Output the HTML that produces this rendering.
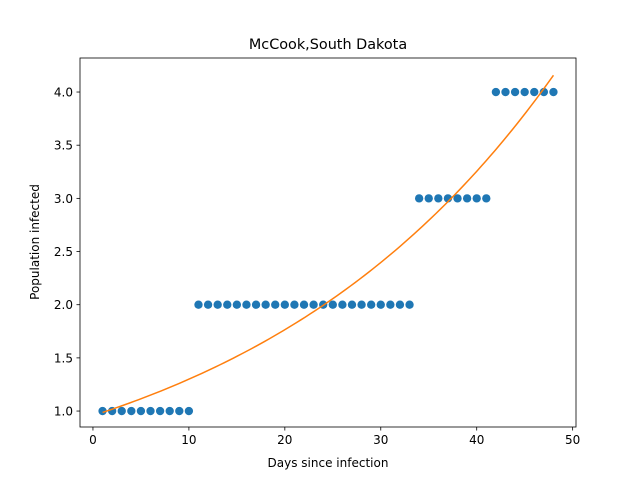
<!DOCTYPE html>
<html><head><meta charset="utf-8"><style>
body{margin:0;background:#fff;}
svg{display:block;font-family:"DejaVu Sans","Liberation Sans",sans-serif;}
</style></head><body>
<svg id="chart" width="640" height="480" xmlns="http://www.w3.org/2000/svg">
<rect width="640" height="480" fill="#fff"/>
<text x="328" y="49" font-size="14.4" text-anchor="middle">McCook,South Dakota</text>
<g id="plot"></g>
<rect x="80" y="58" width="496" height="369" fill="none" stroke="#000" stroke-width="0.8"/>
<text x="328" y="467" font-size="12" text-anchor="middle">Days since infection</text>
<text x="39" y="242" font-size="12" text-anchor="middle" transform="rotate(-90 39 242)">Population infected</text>
</svg>
<script>
const days = [1,2,3,4,5,6,7,8,9,10,11,12,13,14,15,16,17,18,19,20,21,22,23,24,25,26,27,28,29,30,31,32,33,34,35,36,37,38,39,40,41,42,43,44,45,46,47,48];
const infected = [1,1,1,1,1,1,1,1,1,1,2,2,2,2,2,2,2,2,2,2,2,2,2,2,2,2,2,2,2,2,2,2,2,3,3,3,3,3,3,3,3,4,4,4,4,4,4,4];
const fitParams = [0.957, 0.0306];
const xTicks = [0,10,20,30,40,50];
const yTicks = [1.0,1.5,2.0,2.5,3.0,3.5,4.0];
const X0=80,X1=576,Y0=58,Y1=427;
const xmin=-1.35,xmax=50.35,ymin=0.85,ymax=4.32;
const sx=v=>X0+(v-xmin)/(xmax-xmin)*(X1-X0);
const sy=v=>Y1-(v-ymin)/(ymax-ymin)*(Y1-Y0);
const NS="http://www.w3.org/2000/svg";
const g=document.getElementById('plot');
function mk(t,a){const e=document.createElementNS(NS,t);for(const k in a)e.setAttribute(k,a[k]);g.appendChild(e);return e;}
xTicks.forEach(t=>{
  const l=mk('line',{x1:sx(t),x2:sx(t),y1:Y1,y2:Y1+3.5,stroke:'#000','stroke-width':0.8});
  
  
  const tx=mk('text',{x:sx(t),y:Y1+17,'font-size':12,'text-anchor':'middle'});
  tx.textContent=t;
  
  
});
yTicks.forEach(t=>{
  const l=mk('line',{x1:X0-3.5,x2:X0,y1:sy(t),y2:sy(t),stroke:'#000','stroke-width':0.8});
  
  
  const tx=mk('text',{x:X0-7,y:sy(t)+4.5,'font-size':12,'text-anchor':'end'});
  tx.textContent=t.toFixed(1);
  
  
});
days.forEach((d,i)=>{
  const c=mk('circle',{cx:sx(d),cy:sy(infected[i]),r:4.17,fill:'#1f77b4'});
  
  
});
let pts=[];
for(let i=0;i<=100;i++){const x=days[0]+(days[days.length-1]-days[0])*i/100;pts.push(sx(x).toFixed(2)+','+sy(fitParams[0]*Math.exp(fitParams[1]*x)).toFixed(2));}
const p=mk('polyline',{points:pts.join(' '),fill:'none',stroke:'#ff7f0e','stroke-width':1.5});


</script>
</body></html>
